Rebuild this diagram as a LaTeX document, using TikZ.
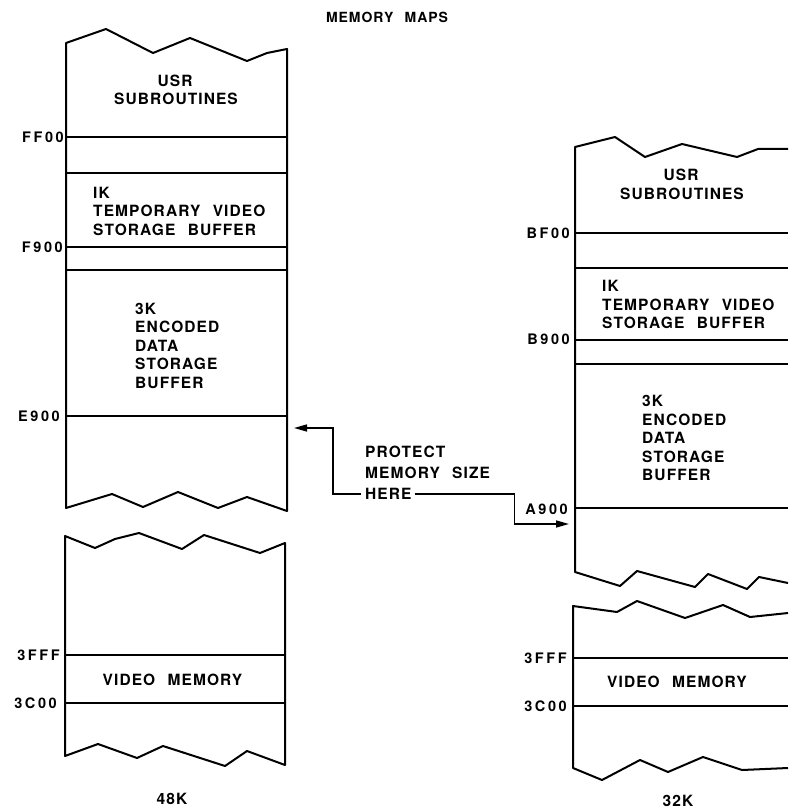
\documentclass[tikz,border=0pt]{standalone}
\usepackage{fontspec}
\usetikzlibrary{arrows.meta}
\newfontfamily\labf[LetterSpace=7,WordSpace=2.3,UprightFont=*-Bold]{TeX Gyre Heros}
\newfontfamily\hexf[LetterSpace=18,UprightFont=*-Bold]{TeX Gyre Heros}
\tikzset{
  lab/.style={inner sep=0pt,font={\labf\fontsize{15.5}{18.5}\selectfont}},
  blk/.style={lab,align=left,anchor=north west},
  hexlab/.style={inner sep=0pt,anchor=east,font={\hexf\fontsize{14.5}{17}\selectfont}},
  edge/.style={line width=2pt,line join=round},
  sep/.style={line width=1.9pt},
  arr/.style={line width=1.5pt,-{Triangle[length=13pt,width=7pt]}}
}
\begin{document}
\begin{tikzpicture}[x=1pt,y=-1pt]
\useasboundingbox (0,0) rectangle (788,810);
% title
\node[lab,font={\labf\fontsize{14}{17}\selectfont}] (title) at (387,17) {MEMORY MAPS};

% ---------- 48K upper block ----------
\draw[edge] (66,43) -- (106,29) -- (153,53) -- (190,38) -- (247,61) -- (267,53) -- (287,49)
  -- (287,511) -- (247,497) -- (218,508) -- (178,492) -- (143,507) -- (112,494) -- (66,508) -- cycle;
\foreach \yy in {137,173,247,270,416} \draw[sep] (66,\yy) -- (287,\yy);
\node[lab] (usrL) at (175,80.5) {USR};
\node[lab] (subL) at (176,98.5) {SUBROUTINES};
\node[blk] (tmpL) at (93,187) {IK\\TEMPORARY VIDEO\\STORAGE BUFFER};
\node[blk] (encL) at (135,302.5) {3K\\ENCODED\\DATA\\STORAGE\\BUFFER};
\node[hexlab] (ff00) at (64,137) {FF00};
\node[hexlab] (f900) at (63,247) {F900};
\node[hexlab] (e900) at (60,416) {E900};

% ---------- 48K lower block ----------
\draw[edge] (65,536) -- (95,548) -- (115,539) -- (139,533) -- (182,549) -- (204,535) -- (260,553) -- (285,543)
  -- (285,765) -- (247,751) -- (225,766) -- (163,746) -- (137,758) -- (98,744) -- (65,756) -- cycle;
\foreach \yy in {655,703} \draw[sep] (65,\yy) -- (285,\yy);
\node[lab] (vidL) at (172.5,680) {VIDEO MEMORY};
\node[hexlab] (fffL) at (60,655) {3FFF};
\node[hexlab] (c00L) at (57,703) {3C00};
\node[lab] (k48) at (172,799) {48K};

% ---------- 32K upper block ----------
\draw[edge] (788,149) -- (758,149) -- (737,157) -- (682,144) -- (645,157) -- (615,137) -- (575,147)
  -- (575,572) -- (620,586) -- (637,571) -- (695,587) -- (708,574) -- (747,589) -- (759,577) -- (788,583);
\foreach \yy in {233,268,340,364,508} \draw[sep] (575,\yy) -- (788,\yy);
\node[lab] (usrR) at (681,175) {USR};
\node[lab] (subR) at (682,194) {SUBROUTINES};
\node[blk] (tmpR) at (602,280) {IK\\TEMPORARY VIDEO\\STORAGE BUFFER};
\node[blk] (encR) at (642,395) {3K\\ENCODED\\DATA\\STORAGE\\BUFFER};
\node[hexlab] (bf00) at (570,233) {BF00};
\node[hexlab] (b900) at (570,339) {B900};
\node[hexlab] (a900) at (568,509) {A900};

% ---------- 32K lower block ----------
\draw[edge] (788,613) -- (750,617) -- (723,605) -- (685,618) -- (637,601) -- (617,612) -- (573,606)
  -- (573,768) -- (602,780) -- (640,760) -- (668,772) -- (703,757) -- (742,770) -- (788,768);
\foreach \yy in {658,706} \draw[sep] (573,\yy) -- (788,\yy);
\node[lab] (vidR) at (677,682) {VIDEO MEMORY};
\node[hexlab] (fffR) at (567,658) {3FFF};
\node[hexlab] (c00R) at (567,706) {3C00};
\node[lab] (k32) at (678,801) {32K};

% ---------- protect memory size ----------
\node[lab,align=left,anchor=north west,font={\labf\fontsize{15.5}{20.5}\selectfont}] (prot) at (365,446) {PROTECT\\MEMORY SIZE};
\node[lab,anchor=west] (here) at (365,494) {HERE};
\coordinate (tipL) at (294,428);
\coordinate (tipR) at (569,524);
\draw[arr] ([xshift=-4pt]here.west) -- ++(-28,0) |- (tipL);
\draw[arr] ([xshift=3pt]here.east) -- ++(100,0) |- (tipR);
\end{tikzpicture}
\end{document}
